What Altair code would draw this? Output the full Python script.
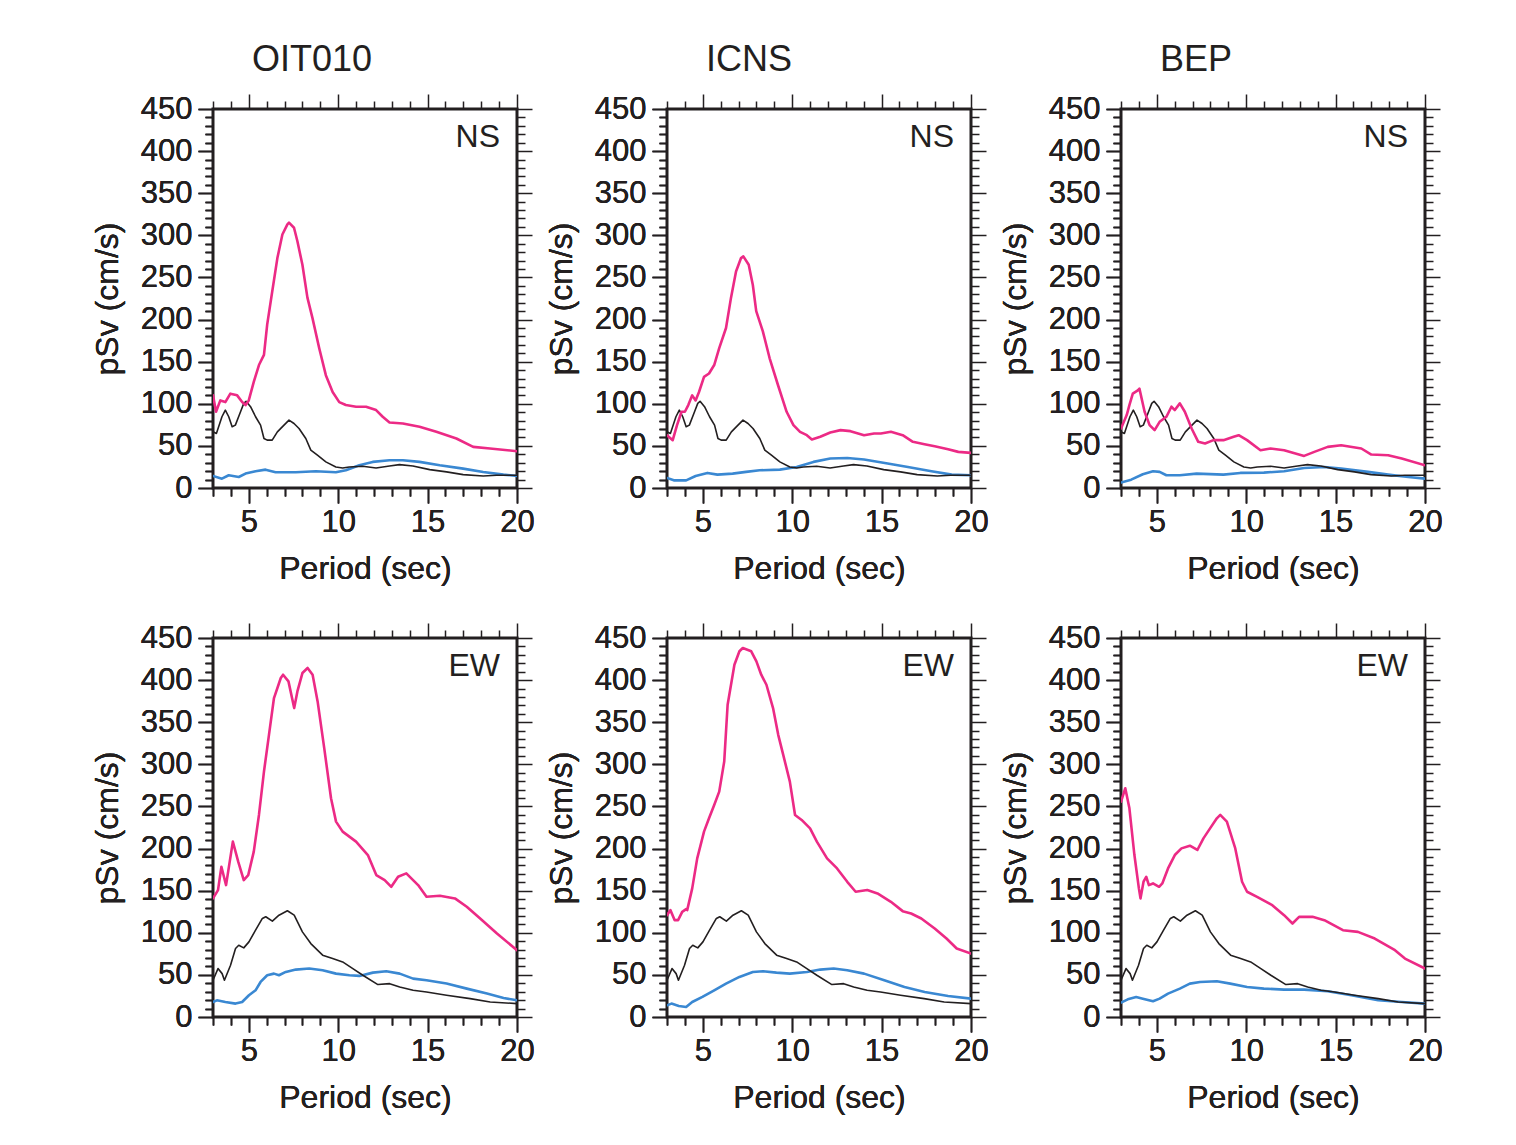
import altair as alt
import pandas as pd

FONT = "Liberation Sans"
INK = "#231f20"
PINK = "#ec2a85"
BLUE = "#3a88d2"

W, H = 304, 379

stations = ["OIT010", "ICNS", "BEP"]
components = ["NS", "EW"]

# ---- black (common per component) ----
black_NS_x = [3.0, 3.19, 3.5, 3.69, 3.88, 4.07, 4.25, 4.54, 4.72, 4.85, 5.1, 5.38, 5.66, 5.85, 6.03, 6.31, 6.6, 6.97,
              7.25, 7.53, 7.81, 8.19, 8.47, 8.84, 9.31, 9.87, 10.25, 10.62, 11.37, 12.12, 12.87, 13.43, 14.18, 15.12,
              16.06, 16.99, 18.11, 18.86, 20.0]
black_NS_y = [66.7, 64.7, 84.6, 92.5, 84.6, 72.7, 74.7, 90.5, 100.5, 103, 96.5, 84.6, 74.7, 58.8, 56.8, 56.8, 66.7,
              74.7, 80.6, 76.6, 70.7, 58.8, 44.9, 38.9, 31, 25, 23.8, 25, 25.8, 23.8, 26.2, 27.8, 26.2, 21.8, 19.1,
              15.9, 14.3, 15.1, 15.1]
black_EW_x = [3.0, 3.28, 3.51, 3.64, 3.98, 4.26, 4.44, 4.72, 5.01, 5.38, 5.76, 5.95, 6.32, 6.69, 7.16, 7.54, 8.0,
              8.47, 9.13, 9.69, 10.25, 10.82, 11.38, 12.22, 12.88, 13.44, 14.19, 14.94, 16.06, 17.38, 18.5, 20.0]
black_EW_y = [43.6, 57.5, 51.5, 43.6, 61.5, 81.3, 85.2, 82.1, 89.2, 103.1, 117, 119, 113.8, 120.9, 126.1, 120.9,
              101.1, 87.2, 73.4, 69.4, 65.4, 57.5, 49.6, 38.5, 39.6, 35.7, 31.7, 29.7, 25.8, 21.8, 17.8, 15.9]

# ---- OIT010 ----
pink_OIT010_NS_x = [3.0, 3.17, 3.41, 3.69, 3.97, 4.35, 4.63, 4.82, 5.0, 5.28, 5.57, 5.85, 6.03, 6.31, 6.6, 6.88,
                    7.16, 7.25, 7.53, 7.72, 8.0, 8.28, 8.56, 8.94, 9.31, 9.69, 10.06, 10.43, 11.0, 11.56, 12.12,
                    12.49, 12.87, 13.62, 14.55, 15.49, 16.61, 17.55, 18.49, 20.0]
pink_OIT010_NS_y = [110, 90.5, 104, 102, 112, 110, 102, 98.5, 104, 126, 146, 158, 194, 233, 273, 301, 313, 315, 309,
                    293, 265, 226, 202, 166, 134, 114, 102, 98.5, 96.5, 96.5, 92.5, 84.6, 77.8, 76.6, 72.7, 66.7,
                    58.8, 48.8, 46.9, 43.7]
blue_OIT010_NS_x = [3.0, 3.5, 3.88, 4.44, 4.82, 5.38, 5.94, 6.5, 7.63, 8.75, 9.87, 10.43, 11.18, 11.93, 12.87, 13.62,
                    14.55, 15.68, 16.99, 18.11, 19.24, 20.0]
blue_OIT010_NS_y = [14.3, 11.1, 15.1, 13.1, 17.1, 19.9, 21.8, 18.7, 18.7, 19.9, 18.7, 21, 27, 31, 33, 33, 31, 27, 23,
                    19.1, 15.9, 14.3]
pink_OIT010_EW_x = [3.0, 3.28, 3.47, 3.73, 4.11, 4.41, 4.72, 4.97, 5.28, 5.57, 5.85, 6.13, 6.41, 6.79, 6.92, 7.22,
                    7.54, 7.72, 8.0, 8.29, 8.57, 8.85, 9.22, 9.6, 9.88, 10.25, 11.0, 11.66, 12.13, 12.6, 12.97, 13.35,
                    13.81, 14.47, 14.94, 15.69, 16.53, 17.19, 17.94, 18.88, 20.0]
pink_OIT010_EW_y = [140.8, 150.7, 178.4, 156.6, 208.2, 184.4, 162.6, 168.5, 196.3, 239.9, 291.4, 335, 378.7, 402.5,
                    406.4, 398.5, 366.8, 386.6, 408.4, 414.4, 406.4, 374.7, 319.2, 259.7, 232, 220.1, 208.2, 192.3,
                    168.5, 162.6, 154.6, 166.5, 170.5, 156.6, 142.7, 143.9, 140.8, 130.9, 117, 99.1, 79.3]
blue_OIT010_EW_x = [3.0, 3.22, 3.69, 4.26, 4.63, 5.01, 5.38, 5.66, 6.03, 6.41, 6.69, 7.07, 7.63, 8.38, 9.13, 9.88,
                    10.63, 11.19, 11.94, 12.69, 13.44, 14.19, 14.94, 16.06, 17.19, 18.32, 19.25, 20.0]
blue_OIT010_EW_y = [17.8, 19.8, 17.8, 15.9, 17.8, 25.8, 31.7, 41.6, 49.6, 51.5, 49.6, 53.5, 56.3, 57.5, 55.5, 51.5,
                    49.6, 48.8, 52.7, 54.3, 51.5, 45.6, 43.6, 39.7, 33.7, 27.8, 22.6, 19.8]

# ---- ICNS ----
pink_ICNS_NS_x = [3.0, 3.32, 3.56, 3.81, 4.0, 4.19, 4.41, 4.6, 4.79, 5.07, 5.35, 5.64, 5.92, 6.3, 6.58, 6.86, 7.14,
                  7.27, 7.57, 7.8, 7.99, 8.36, 8.74, 9.21, 9.69, 10.07, 10.44, 10.82, 11.1, 11.57, 12.13, 12.7, 13.26,
                  14.02, 14.58, 14.96, 15.52, 16.18, 16.75, 17.4, 17.97, 18.72, 19.29, 20.0]
pink_ICNS_NS_y = [62.7, 56.8, 74.7, 90.5, 90.5, 98.5, 110, 104, 114, 132, 136, 146, 166, 190, 226, 257, 273, 275,
                  265, 241, 210, 186, 154, 122, 90.5, 74.7, 66.7, 62.7, 57.6, 60.8, 65.9, 68.7, 67.5, 62.7, 64.7,
                  64.7, 66.7, 62.7, 54.8, 52, 49.6, 46.1, 42.9, 41.7]
blue_ICNS_NS_x = [3.0, 3.38, 4.07, 4.6, 5.26, 5.82, 6.67, 7.42, 8.18, 9.31, 10.25, 11.19, 12.13, 13.08, 14.02, 15.34,
                  16.47, 17.79, 18.92, 20.0]
blue_ICNS_NS_y = [11.9, 9.1, 9.1, 14.3, 17.9, 15.9, 17.1, 19.1, 21, 21.8, 25, 31, 35, 35.7, 33.8, 29, 25, 19.9,
                  15.9, 15.1]
pink_ICNS_EW_x = [3.0, 3.19, 3.43, 3.62, 3.85, 4.07, 4.13, 4.41, 4.69, 5.07, 5.35, 5.64, 5.92, 6.2, 6.39, 6.77, 7.05,
                  7.24, 7.71, 8.0, 8.27, 8.56, 8.93, 9.22, 9.5, 9.87, 10.16, 10.53, 11.0, 11.38, 11.95, 12.51, 13.08,
                  13.55, 14.2, 14.77, 15.52, 16.18, 16.65, 17.22, 17.97, 18.63, 19.2, 20.0]
pink_ICNS_EW_y = [120.9, 126.9, 115, 115, 124.9, 128, 126.9, 152.7, 188.3, 220.1, 235.9, 251.8, 267.6, 303.3, 370.7,
                  418.3, 434.2, 438.1, 434.2, 422.3, 406.4, 394.5, 366.8, 335, 311.2, 279.5, 239.9, 234, 224, 208.2,
                  188.3, 176.4, 160.5, 148.7, 150.7, 146.7, 136.8, 125.7, 122.9, 117, 105.1, 93.2, 81.3, 75.3]
blue_ICNS_EW_x = [3.0, 3.25, 3.66, 4.07, 4.41, 4.98, 5.64, 6.3, 7.05, 7.8, 8.37, 9.12, 9.87, 10.82, 11.57, 12.32,
                  13.08, 14.02, 15.15, 16.28, 17.41, 18.72, 20.0]
blue_ICNS_EW_y = [13.9, 15.9, 13.1, 11.9, 17.8, 23.8, 31.7, 39.6, 47.6, 53.5, 54.3, 52.7, 51.5, 53.5, 56.3, 57.5,
                  55.5, 51.5, 43.6, 35.7, 29.7, 25, 21.8]

# ---- BEP ----
pink_BEP_NS_x = [3.0, 3.32, 3.47, 3.66, 3.94, 4.03, 4.32, 4.6, 4.88, 5.16, 5.54, 5.82, 6.01, 6.29, 6.57, 6.95, 7.32,
                 7.7, 8.17, 8.73, 9.3, 9.58, 10.05, 10.8, 11.36, 12.12, 13.24, 13.81, 14.56, 15.31, 16.44, 17.0,
                 17.94, 18.7, 20.0]
pink_BEP_NS_y = [70.7, 86.6, 98.5, 112, 116, 118, 90.5, 74.7, 68.7, 78.6, 84.6, 96.5, 92.5, 100.5, 90.5, 70.7, 54.8,
                 52.8, 56.8, 56.8, 60.8, 62.7, 56.8, 44.9, 46.9, 44.9, 38.1, 42.9, 48.8, 50.8, 46.9, 39.7, 38.9,
                 34.9, 27]
blue_BEP_NS_x = [3.0, 3.57, 4.22, 4.79, 5.16, 5.54, 6.29, 7.23, 8.73, 9.67, 10.99, 12.12, 13.24, 14.37, 15.31, 16.81,
                 17.94, 19.07, 20.0]
blue_BEP_NS_y = [6.4, 9.9, 16.3, 19.9, 19.1, 15.1, 15.1, 17.1, 15.9, 17.9, 18.3, 19.9, 23.8, 25, 23, 19.1, 15.9,
                 13.1, 11.1]
pink_BEP_EW_x = [3.0, 3.24, 3.47, 3.75, 4.0, 4.09, 4.26, 4.41, 4.56, 4.79, 5.13, 5.31, 5.63, 6.01, 6.38, 6.85, 7.27,
                 7.61, 7.98, 8.36, 8.55, 8.92, 9.39, 9.77, 10.05, 10.61, 11.46, 12.12, 12.59, 12.96, 13.71, 14.37,
                 15.41, 16.25, 17.19, 18.32, 18.88, 20.0]
pink_BEP_EW_y = [255.7, 271.6, 247.8, 192.3, 152.7, 140.8, 160.6, 166.5, 156.6, 158.6, 154.6, 158.6, 176.4, 192.3,
                 200.2, 203.4, 198.3, 212.1, 224, 235.9, 239.9, 232, 200.2, 160.6, 148.7, 142.7, 132.8, 120.9, 111,
                 118.9, 118.9, 115, 103.1, 101.1, 93.2, 79.3, 69.4, 57.5]
blue_BEP_EW_x = [3.0, 3.38, 3.85, 4.22, 4.79, 5.16, 5.63, 6.29, 6.85, 7.42, 8.36, 9.11, 10.05, 10.99, 12.12, 13.24,
                 14.56, 15.88, 17.38, 18.7, 20.0]
blue_BEP_EW_y = [17.1, 21, 23.8, 21.8, 18.7, 21.8, 27.8, 33.7, 39.6, 41.6, 42.4, 39.6, 35.7, 33.7, 32.5, 32.5, 30.5,
                 25.8, 19.8, 17.8, 15.9]

x_tick_values = list(range(3, 21))
y_tick_values = list(range(0, 451, 10))

pink_map = {
    ("OIT010", "NS"): (pink_OIT010_NS_x, pink_OIT010_NS_y),
    ("OIT010", "EW"): (pink_OIT010_EW_x, pink_OIT010_EW_y),
    ("ICNS", "NS"): (pink_ICNS_NS_x, pink_ICNS_NS_y),
    ("ICNS", "EW"): (pink_ICNS_EW_x, pink_ICNS_EW_y),
    ("BEP", "NS"): (pink_BEP_NS_x, pink_BEP_NS_y),
    ("BEP", "EW"): (pink_BEP_EW_x, pink_BEP_EW_y),
}
blue_map = {
    ("OIT010", "NS"): (blue_OIT010_NS_x, blue_OIT010_NS_y),
    ("OIT010", "EW"): (blue_OIT010_EW_x, blue_OIT010_EW_y),
    ("ICNS", "NS"): (blue_ICNS_NS_x, blue_ICNS_NS_y),
    ("ICNS", "EW"): (blue_ICNS_EW_x, blue_ICNS_EW_y),
    ("BEP", "NS"): (blue_BEP_NS_x, blue_BEP_NS_y),
    ("BEP", "EW"): (blue_BEP_EW_x, blue_BEP_EW_y),
}
black_map = {"NS": (black_NS_x, black_NS_y), "EW": (black_EW_x, black_EW_y)}

major_x = "datum.value % 5 == 0"
major_y = "datum.value % 50 == 0"


def x_axis(orient):
    return alt.Axis(
        orient=orient, values=x_tick_values, labels=(orient == "bottom"),
        labelExpr=f"{major_x} ? datum.label : ''",
        tickSize={"condition": {"test": major_x, "value": 15}, "value": 8},
        labelPadding=4, titlePadding=16,
    )


def y_axis(orient):
    return alt.Axis(
        orient=orient, values=y_tick_values, labels=(orient == "left"),
        labelExpr=f"{major_y} ? datum.label : ''",
        tickSize={"condition": {"test": major_y, "value": 15}, "value": 8},
        labelPadding=6, titlePadding=16,
    )


XSC = alt.Scale(domain=[3, 20], nice=False, zero=False)
YSC = alt.Scale(domain=[0, 450], nice=False)


def series_chart(xs, ys, color, width):
    df = pd.DataFrame({"period": xs, "psv": ys})
    return alt.Chart(df).mark_line(clip=True, color=color, strokeWidth=width,
                                   strokeJoin="round", strokeCap="round").encode(
        x=alt.X("period:Q", scale=XSC, axis=x_axis("bottom"), title="Period (sec)"),
        y=alt.Y("psv:Q", scale=YSC, axis=y_axis("left"), title="pSv (cm/s)"),
    )


def panel(st, comp, with_title):
    bx, by = blue_map[(st, comp)]
    kx, ky = black_map[comp]
    px, py = pink_map[(st, comp)]
    blue_line = series_chart(bx, by, BLUE, 2.6)
    black_line = series_chart(kx, ky, INK, 1.6)
    pink_line = series_chart(px, py, PINK, 2.6)
    mirror = alt.Chart(pd.DataFrame({"period": kx, "psv": ky})).mark_line(opacity=0).encode(
        x=alt.X("period:Q", scale=XSC, axis=x_axis("top"), title=None),
        y=alt.Y("psv:Q", scale=YSC, axis=y_axis("right"), title=None),
    )
    label = alt.Chart(pd.DataFrame({"t": [comp]})).mark_text(
        font=FONT, fontSize=32, color=INK, align="right", baseline="alphabetic"
    ).encode(x=alt.value(W - 17), y=alt.value(38), text="t:N")
    layer = alt.layer(blue_line, black_line, pink_line, mirror, label).resolve_axis(
        x="independent", y="independent")
    if with_title:
        return layer.properties(
            width=W, height=H,
            title=alt.TitleParams(st, anchor="start", frame="group", dx=39, font=FONT, fontSize=36,
                                  fontWeight="normal", color=INK, offset=14),
        )
    return layer.properties(width=W, height=H)


panels = [panel(s, "NS", True) for s in stations] + [panel(s, "EW", False) for s in stations]

chart = alt.concat(*panels, columns=3, spacing=150, bounds="flush").properties(
    padding={"left": 81, "top": 32, "right": 10, "bottom": 10}
).configure_view(
    stroke=INK, strokeWidth=3
).configure_axis(
    labelFont=FONT, labelFontSize=31, labelColor=INK,
    titleFont=FONT, titleFontSize=32, titleFontWeight="normal", titleColor=INK,
    tickColor=INK, tickWidth=1.5, domain=False, grid=False,
    labelFlush=False, labelOverlap=False,
)

chart.save("out.html", embed_options={"renderer": "svg", "actions": False})
